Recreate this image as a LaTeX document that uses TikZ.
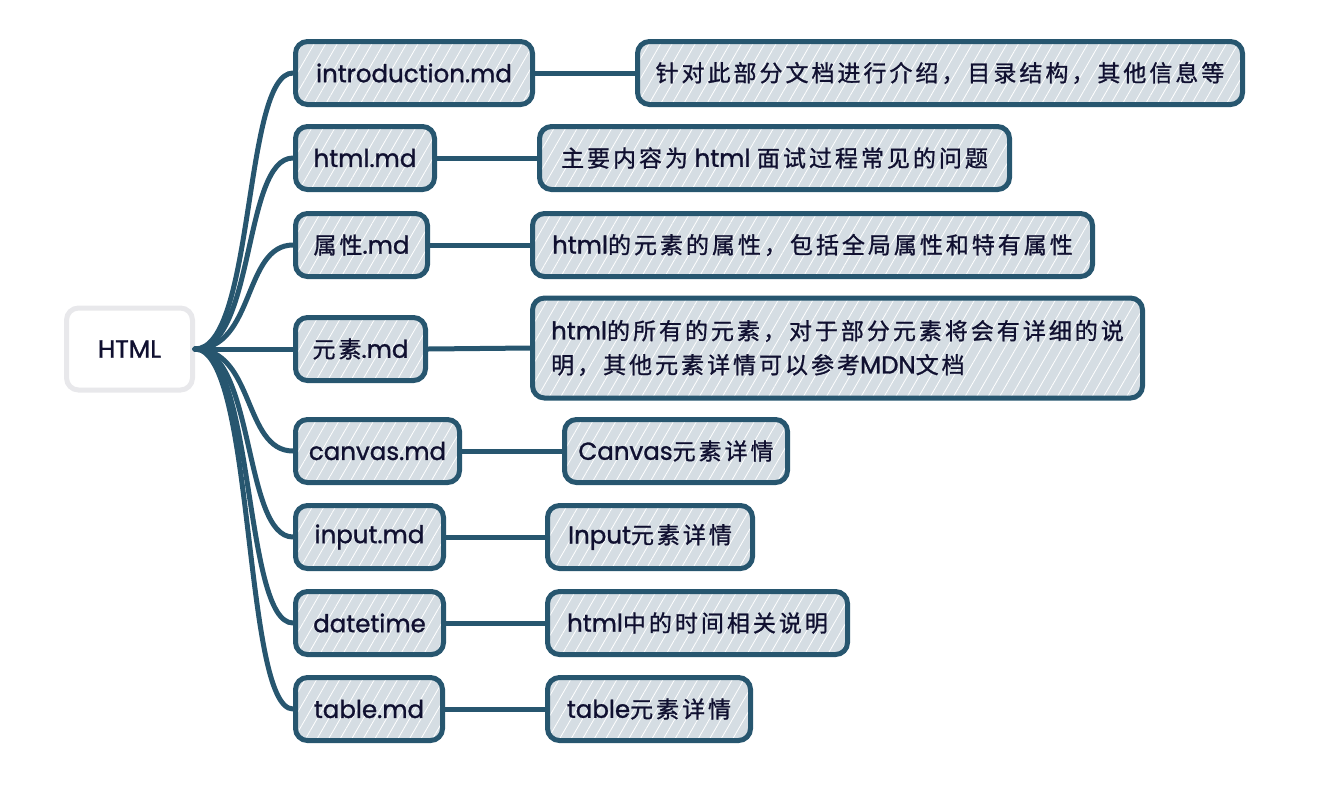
\documentclass[tikz,border=0pt]{standalone}
\usepackage{fontspec}
\setmainfont{Poppins}[FakeBold=1.2]
\newfontfamily\cjkf[LetterSpace=13,FakeBold=1]{Noto Sans CJK SC}
\newcommand\zh[1]{{\cjkf\fontsize{23}{34}\selectfont #1}}
\usetikzlibrary{patterns.meta}
\definecolor{edge}{HTML}{27566F}
\definecolor{boxfill}{HTML}{D5DDE3}
\definecolor{ink}{HTML}{101030}
\definecolor{rootedge}{HTML}{E8E8EB}
\begin{document}
\begin{tikzpicture}[x=1pt,y=-1pt,
  box/.style={draw=edge, line width=5pt, rounded corners=12pt,
    preaction={fill=boxfill},
    preaction={pattern={Lines[angle=60,distance=10pt,line width=0.8pt]}, pattern color=white},
    minimum height=63pt, anchor=west, inner sep=0pt, text=ink,
    font=\fontsize{24.5}{34}\selectfont},
  rootbox/.style={draw=rootedge, line width=5pt, rounded corners=12pt, fill=white,
    minimum width=126pt, minimum height=82pt, anchor=west, inner sep=0pt, text=ink,
    font=\fontsize{25}{30}\selectfont},
  conn/.style={draw=edge, line width=5pt, line cap=round}]
\useasboundingbox (0,0) rectangle (1344,788);

\node[rootbox] (root) at (64,349) {HTML};

\node[box, minimum width=237pt] (a1) at (293,73) {introduction.md};
\node[box, minimum width=139pt] (a2) at (293,158) {html.md};
\node[box, minimum width=132pt] (a3) at (293,245) {\zh{属性}.md};
\node[box, minimum width=130pt] (a4) at (293,349) {\zh{元素}.md};
\node[box, minimum width=164pt] (a5) at (293,451) {canvas.md};
\node[box, minimum width=148pt] (a6) at (293,537) {input.md};
\node[box, minimum width=148pt] (a7) at (293,623) {datetime};
\node[box, minimum width=147pt] (a8) at (293,709) {table.md};

\node[box, minimum width=605pt] (b1) at (635,73) {\zh{针对此部分文档进行介绍，目录结构，其他信息等}};
\node[box, minimum width=470pt] (b2) at (537,158) {\zh{主要内容为} html \zh{面试过程常见的问题}};
\node[box, minimum width=560pt] (b3) at (530,245) {html\zh{的元素的属性，包括全局属性和特有属性}};
\node[box, minimum width=610pt, minimum height=100pt, align=left] (b4) at (530,348) {html\zh{的所有的元素，对于部分元素将会有详细的说}\\\zh{明，其他元素详情可以参考}MDN\zh{文档}};
\node[box, minimum width=223pt] (b5) at (562,451) {Canvas\zh{元素详情}};
\node[box, minimum width=205pt] (b6) at (545,537) {Input\zh{元素详情}};
\node[box, minimum width=300pt] (b7) at (545,623) {html\zh{中的时间相关说明}};
\node[box, minimum width=203pt] (b8) at (545,709) {table\zh{元素详情}};

\foreach \n in {a1,a2,a3,a4,a5,a6,a7,a8}{
  \draw[conn] (root.east) .. controls +(60,0) and +(-50,0) .. (\n.west);
}
\foreach \i in {1,...,8}{
  \draw[conn] (a\i.east) -- (b\i.west);
}
\end{tikzpicture}
\end{document}
